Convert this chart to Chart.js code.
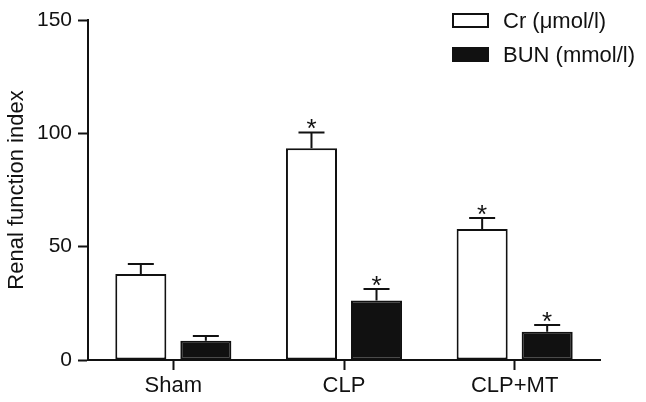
<!DOCTYPE html>
<html>
<head>
<meta charset="utf-8">
<script src="https://cdn.jsdelivr.net/npm/chart.js@4"></script>
<style>
    html, body { margin: 0; padding: 0; background: #fff; }
    #wrap { width: 646px; height: 402px; }
</style>
</head>
<body>
<div id="wrap"><canvas id="renal-chart"></canvas></div>
<script>
const groups = ["Sham", "CLP", "CLP+MT"];
const cr_values = [37.9, 93.4, 57.8];
const cr_errors = [4.4, 7.0, 4.8];
const bun_values = [8.5, 26.2, 12.5];
const bun_errors = [2.1, 5.1, 2.9];
const cr_signif = [false, true, true];
const bun_signif = [false, true, true];
const y_ticks = [0, 50, 100, 150];

const font_family = "'Liberation Sans', Arial, Helvetica, sans-serif";
const ink = "#111";

// error bars (upward only) plus the significance stars
const errorBarPlugin = {
    id: "errorBars",
    afterDatasetsDraw(chart) {
        const ctx = chart.ctx;
        const y_scale = chart.scales.y;
        chart.data.datasets.forEach((ds, i) => {
            const meta = chart.getDatasetMeta(i);
            meta.data.forEach((bar, j) => {
                const top = y_scale.getPixelForValue(ds.data[j]);
                const cap = y_scale.getPixelForValue(ds.data[j] + ds.errors[j]);
                ctx.save();
                ctx.strokeStyle = ink;
                ctx.lineWidth = 2;
                ctx.beginPath();
                ctx.moveTo(bar.x, top);
                ctx.lineTo(bar.x, cap);
                ctx.moveTo(bar.x - 13, cap);
                ctx.lineTo(bar.x + 13, cap);
                ctx.stroke();
                if (ds.signif[j]) {
                    ctx.fillStyle = ink;
                    ctx.font = "26px " + font_family;
                    ctx.textAlign = "center";
                    ctx.textBaseline = "alphabetic";
                    ctx.fillText("*", bar.x, cap + 5);
                }
                ctx.restore();
            });
        });
    }
};

// legend stacked in the top right corner
const cornerLegend = {
    id: "cornerLegend",
    afterDraw(chart) {
        const ctx = chart.ctx;
        const left = chart.chartArea.right - 148;
        chart.data.datasets.forEach((ds, i) => {
            const y = 13 + i * 34;
            ctx.save();
            ctx.fillStyle = ds.backgroundColor;
            ctx.fillRect(left, y, 37, 15);
            ctx.strokeStyle = ink;
            ctx.lineWidth = 2;
            ctx.strokeRect(left + 1, y + 1, 35, 13);
            ctx.fillStyle = ink;
            ctx.font = "22px " + font_family;
            ctx.textAlign = "left";
            ctx.textBaseline = "middle";
            ctx.fillText(ds.label, left + 51, y + 9);
            ctx.restore();
        });
    }
};

const bar_data = {
    labels: groups,
    datasets: [{
        label: "Cr (\u03bcmol/l)",
        data: cr_values,
        errors: cr_errors,
        signif: cr_signif,
        backgroundColor: "#ffffff",
        borderColor: ink,
        borderWidth: 2,
        borderSkipped: false
    },
    {
        label: "BUN (mmol/l)",
        data: bun_values,
        errors: bun_errors,
        signif: bun_signif,
        backgroundColor: ink,
        borderColor: ink,
        borderWidth: 2,
        borderSkipped: false
    }]
};

const config_bar = {
    type: "bar",
    data: bar_data,
    options: {
        responsive: true,
        maintainAspectRatio: false,
        animation: false,
        categoryPercentage: 0.762,
        barPercentage: 0.785,
        layout: {
            padding: { top: 20, right: 46, left: 0, bottom: 0 }
        },
        plugins: {
            legend: { display: false },
            tooltip: { enabled: false }
        },
        scales: {
            x: {
                afterFit: (scale) => { scale.height = 42; },
                border: { color: ink, width: 2 },
                grid: {
                    offset: false,
                    drawOnChartArea: false,
                    tickLength: 10,
                    tickColor: ink,
                    tickWidth: 2
                },
                ticks: {
                    color: ink,
                    padding: 3,
                    font: { family: font_family, size: 22 }
                }
            },
            y: {
                min: 0,
                max: 150,
                afterFit: (scale) => { scale.width = 88; },
                afterBuildTicks: (scale) => { scale.ticks = y_ticks.map(v => ({ value: v })); },
                border: { color: ink, width: 2 },
                grid: {
                    drawOnChartArea: false,
                    tickLength: 10,
                    tickColor: ink,
                    tickWidth: 2
                },
                ticks: {
                    color: ink,
                    padding: 6,
                    font: { family: font_family, size: 21 }
                },
                title: {
                    display: true,
                    text: "Renal function index",
                    color: ink,
                    font: { family: font_family, size: 22 }
                }
            }
        }
    },
    plugins: [errorBarPlugin, cornerLegend]
};

const ctx = document.getElementById("renal-chart").getContext("2d");
const bar_chart = new Chart(ctx, config_bar);
</script>
</body>
</html>
